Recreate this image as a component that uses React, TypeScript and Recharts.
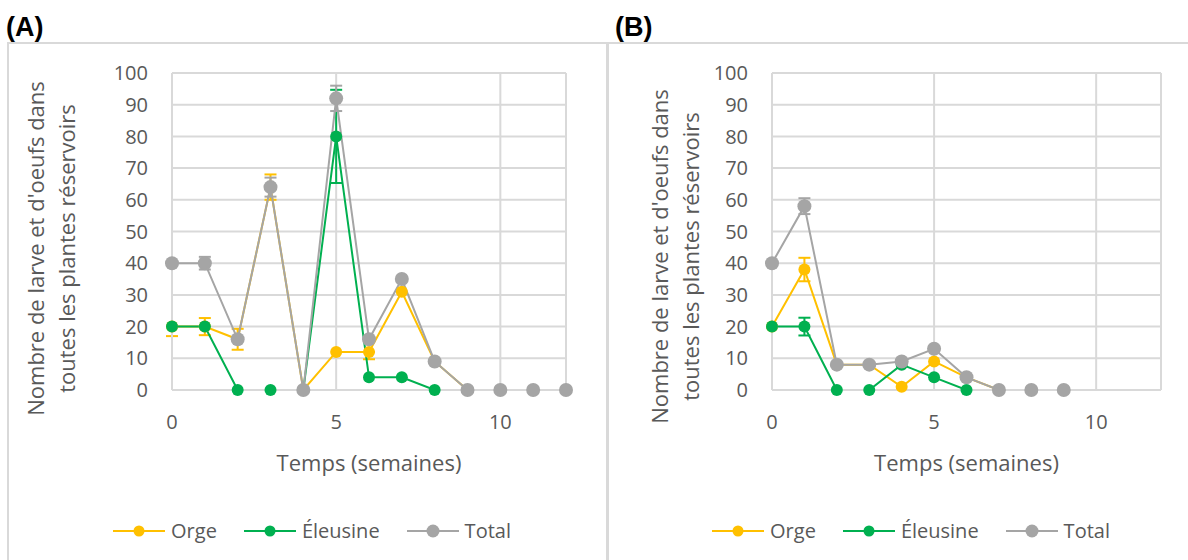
import React from 'react';
import { LineChart, Line, XAxis, YAxis, CartesianGrid, Legend, ErrorBar } from 'recharts';

// panel A
const weeksA = [0, 1, 2, 3, 4, 5, 6, 7, 8, 9, 10, 11, 12];
const orgeA = [20, 20, 16, 64, 0, 12, 12, 31, 9, 0, 0, 0, 0];
const eleusineA = [20, 20, 0, 0, 0, 80, 4, 4, 0, 0, 0, 0, 0];
const totalA = [40, 40, 16, 64, 0, 92, 16, 35, 9, 0, 0, 0, 0];
const orgeErrA = [[3, 0], 2.7, 3.3, 4, null, null, [2.3, 0], null, null, null, null, null, null];
const eleusineErrA = [null, null, null, null, null, 14.7, null, null, null, null, null, null, null];
const totalErrA = [null, 2, null, 3, null, 4, null, null, null, null, null, null, null];

// panel B
const weeksB = [0, 1, 2, 3, 4, 5, 6, 7, 8, 9];
const orgeB = [20, 38, 8, 8, 1, 9, 4, 0, 0, 0];
const eleusineB = [20, 20, 0, 0, 8, 4, 0, 0, 0, 0];
const totalB = [40, 58, 8, 8, 9, 13, 4, 0, 0, 0];
const orgeErrB = [null, 3.7, null, null, null, null, null, null, null, null];
const eleusineErrB = [null, 2.8, null, null, null, null, null, null, null, null];
const totalErrB = [null, 2.5, null, null, null, null, null, null, null, null];

const xTicks = [0, 5, 10];
const yTicks = [0, 10, 20, 30, 40, 50, 60, 70, 80, 90, 100];
const seriesNames = ['Orge', 'Éleusine', 'Total'];
const seriesKeys = ['orge', 'eleusine', 'total'];
const colors = ['#FFC000', '#00B050', '#A5A5A5'];
const yTitle = ["Nombre de larve et d'oeufs dans", 'toutes les plantes réservoirs'];
const xTitle = 'Temps (semaines)';

const FONT = '"Open Sans", sans-serif';
const GRID = '#d9d9d9';
const TEXT = '#595959';

const buildRows = (weeks, orge, eleusine, total, oe, ee, te) =>
  weeks.map((w, i) => ({
    week: w,
    orge: orge[i],
    eleusine: eleusine[i],
    total: total[i],
    orgeErr: oe[i],
    eleusineErr: ee[i],
    totalErr: te[i],
  }));

const dataA = buildRows(weeksA, orgeA, eleusineA, totalA, orgeErrA, eleusineErrA, totalErrA);
const dataB = buildRows(weeksB, orgeB, eleusineB, totalB, orgeErrB, eleusineErrB, totalErrB);

const YTitle = (props: any) => {
  const vb = props.viewBox || { x: 0, y: 28, width: 164, height: 317 };
  const cy = vb.y + vb.height / 2 + props.shift;
  const x1 = vb.x + props.l1;
  const x2 = vb.x + props.l2;
  return (
    <g fill={TEXT} fontSize={22} fontFamily={FONT}>
      <text x={x1} y={cy} textAnchor="middle" dominantBaseline="central" transform={`rotate(-90 ${x1} ${cy})`}>
        {yTitle[0]}
      </text>
      <text x={x2} y={cy} textAnchor="middle" dominantBaseline="central" transform={`rotate(-90 ${x2} ${cy})`}>
        {yTitle[1]}
      </text>
    </g>
  );
};

const XTitle = (props: any) => {
  const vb = props.viewBox || { x: 164, y: 345, width: 394, height: 126 };
  return (
    <text x={vb.x + vb.width / 2} y={vb.y + 72} textAnchor="middle" dominantBaseline="central" fill={TEXT} fontSize={22} fontFamily={FONT}>
      {xTitle}
    </text>
  );
};

const LegendBox = () => (
  <div style={{ display: 'flex', justifyContent: 'center', alignItems: 'center', height: 30 }}>
    {seriesNames.map((name, i) => (
      <div key={name} style={{ display: 'flex', alignItems: 'center', marginLeft: i ? 27 : 0 }}>
        <svg width={52} height={16}>
          <line x1={0} x2={52} y1={8} y2={8} stroke={colors[i]} strokeWidth={2} />
          <circle cx={26} cy={8} r={i === 2 ? 6.5 : 5.5} fill={colors[i]} />
        </svg>
        <span style={{ marginLeft: 6, fontSize: 20, color: TEXT, fontFamily: FONT, lineHeight: '30px' }}>{name}</span>
      </div>
    ))}
  </div>
);

const Panel = ({ data, yWidth, right, legendW, l1, l2, shift }: any) => (
  <LineChart width={600} height={515} data={data} margin={{ top: 28, right, left: 0, bottom: 14 }}>
    <CartesianGrid stroke={GRID} strokeWidth={2} />
    <XAxis
      type="number"
      dataKey="week"
      domain={[0, 12]}
      ticks={xTicks}
      tickLine={false}
      tickSize={0}
      tickMargin={25}
      axisLine={{ stroke: GRID, strokeWidth: 2 }}
      tick={{ fill: TEXT, fontSize: 20 }}
      height={126}
      label={<XTitle />}
    />
    <YAxis
      type="number"
      domain={[0, 100]}
      ticks={yTicks}
      tickLine={false}
      tickSize={0}
      tickMargin={24}
      axisLine={{ stroke: GRID, strokeWidth: 2 }}
      tick={{ fill: TEXT, fontSize: 20 }}
      width={yWidth}
      label={<YTitle l1={l1} l2={l2} shift={shift} />}
    />
    <Legend verticalAlign="bottom" content={() => <LegendBox />} wrapperStyle={{ left: 0, width: legendW, height: 30 }} />
    {seriesKeys.map((k, i) => (
      <Line
        key={k}
        type="linear"
        dataKey={k}
        name={seriesNames[i]}
        stroke={colors[i]}
        strokeWidth={2}
        dot={{ r: i === 2 ? 7 : 6, fill: colors[i], stroke: colors[i], strokeWidth: 0 }}
        activeDot={false}
        isAnimationActive={false}
      >
        <ErrorBar dataKey={k + 'Err'} direction="y" stroke={colors[i]} strokeWidth={2} width={6} isAnimationActive={false} />
      </Line>
    ))}
  </LineChart>
);

export default function App() {
  return (
    <div style={{ position: 'fixed', left: 0, top: 0, width: 1188, height: 560, overflow: 'hidden', background: '#fff', fontFamily: FONT }}>
      <div style={{ position: 'absolute', left: 6, top: 14, fontFamily: '"Liberation Sans", Arial, sans-serif', fontWeight: 'bold', fontSize: 27, lineHeight: '27px', color: '#000' }}>(A)</div>
      <div style={{ position: 'absolute', left: 615, top: 14, fontFamily: '"Liberation Sans", Arial, sans-serif', fontWeight: 'bold', fontSize: 27, lineHeight: '27px', color: '#000' }}>(B)</div>
      <div style={{ position: 'absolute', left: 7, top: 42, width: 601, height: 600, border: `2px solid ${GRID}`, boxSizing: 'border-box' }} />
      <div style={{ position: 'absolute', left: 607, top: 42, width: 600, height: 600, border: `2px solid ${GRID}`, boxSizing: 'border-box' }} />
      <div style={{ position: 'absolute', left: 8, top: 45 }}>
        <Panel data={dataA} yWidth={164} right={42} legendW={608} l1={27} l2={58} shift={17} />
      </div>
      <div style={{ position: 'absolute', left: 610, top: 45 }}>
        <Panel data={dataB} yWidth={162} right={49} legendW={602} l1={49} l2={80} shift={25} />
      </div>
    </div>
  );
}
